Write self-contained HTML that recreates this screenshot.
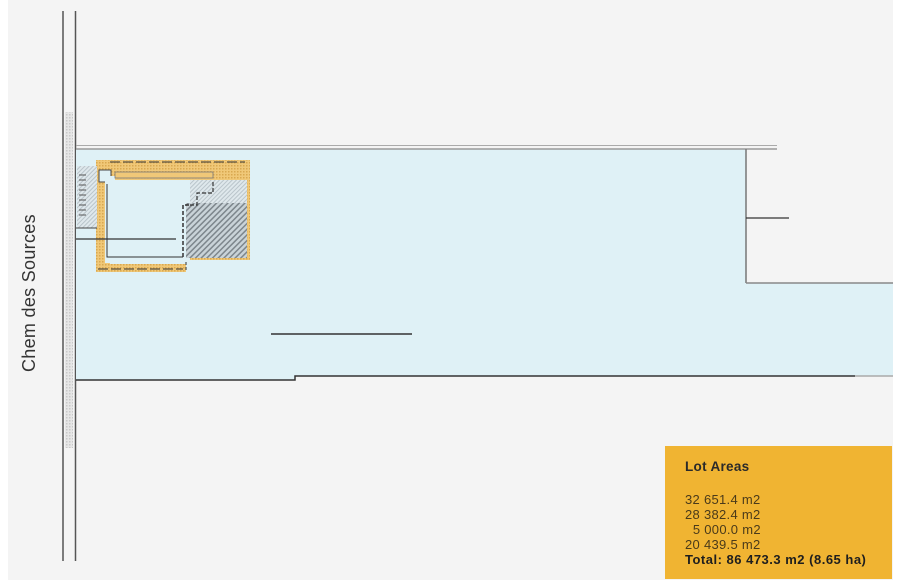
<!DOCTYPE html>
<html><head><style>
body{margin:0;background:#fff;}
.wrap{position:relative;width:921px;height:588px;overflow:hidden;background:#fff;font-family:"Liberation Sans",sans-serif;}
</style></head><body><div class="wrap">
<svg width="921" height="588" style="position:absolute;left:0;top:0">
<defs>
<pattern id="dots" width="3" height="3" patternUnits="userSpaceOnUse"><rect width="3" height="3" fill="#f0c878"/><rect width="1.5" height="1.5" fill="#d9a850"/></pattern>
<pattern id="gdots" width="3" height="3" patternUnits="userSpaceOnUse"><rect width="3" height="3" fill="#e6e6e6"/><rect width="1.5" height="1.5" fill="#c8c8c8"/></pattern>
<pattern id="hatch" width="4" height="4" patternUnits="userSpaceOnUse" patternTransform="rotate(45)"><rect width="4" height="4" fill="#c9d3d8"/><rect width="1.5" height="4" fill="#7d868c"/></pattern>
<pattern id="lhatch" width="3" height="3" patternUnits="userSpaceOnUse" patternTransform="rotate(45)"><rect width="3" height="3" fill="#dfe8ec"/><rect width="1" height="3" fill="#b9c4ca"/></pattern>
</defs>
<rect x="8" y="0" width="885" height="580" fill="#f4f4f4"/>
<rect x="65" y="112" width="8" height="336" fill="url(#gdots)"/>
<line x1="63" y1="11" x2="63" y2="561" stroke="#555" stroke-width="1.5"/>
<line x1="75.5" y1="11" x2="75.5" y2="561" stroke="#555" stroke-width="1.5"/>
<polygon points="76,149 746,149 746,283 893,283 893,376 295,376 295,380 76,380" fill="#dff1f6"/>
<line x1="76" y1="145.5" x2="777" y2="145.5" stroke="#aaa" stroke-width="1"/>
<line x1="76" y1="149" x2="777" y2="149" stroke="#999" stroke-width="1.5"/>
<line x1="746" y1="149" x2="746" y2="283" stroke="#777" stroke-width="1.5"/>
<line x1="746" y1="283" x2="893" y2="283" stroke="#888" stroke-width="1.5"/>
<line x1="746" y1="218" x2="789" y2="218" stroke="#333" stroke-width="1.2"/>
<polyline points="76,380 295,380 295,376 855,376" fill="none" stroke="#333" stroke-width="1.5"/>
<line x1="855" y1="376" x2="893" y2="376" stroke="#aaa" stroke-width="1.5"/>
<line x1="271" y1="334" x2="412" y2="334" stroke="#333" stroke-width="1.5"/>
<polygon points="96,160 250,160 250,260 186,260 186,272 96,272" fill="url(#dots)"/>
<rect x="77" y="166" width="20" height="62" fill="url(#lhatch)"/>
<g stroke="#555" stroke-width="1">
<line x1="79" y1="175" x2="86" y2="175"/><line x1="79" y1="180" x2="86" y2="180"/><line x1="79" y1="185" x2="86" y2="185"/><line x1="79" y1="190" x2="86" y2="190"/><line x1="79" y1="195" x2="86" y2="195"/><line x1="79" y1="200" x2="86" y2="200"/><line x1="79" y1="205" x2="86" y2="205"/><line x1="79" y1="210" x2="86" y2="210"/><line x1="79" y1="215" x2="86" y2="215"/>
</g>
<rect x="99" y="170" width="12" height="12" fill="#dff1f6" stroke="#444"/>
<rect x="105" y="176" width="10" height="87" fill="#dff1f6"/>
<rect x="110" y="180" width="80" height="84" fill="#dff1f6"/>
<rect x="115" y="172" width="98" height="6" fill="#f0c878" stroke="#777" stroke-width="0.8"/>
<rect x="190" y="180" width="57" height="23" fill="url(#lhatch)"/>
<rect x="186" y="203" width="61" height="55" fill="url(#hatch)"/>
<polyline points="107,184 107,257 183,257" fill="none" stroke="#333" stroke-width="1"/>
<polyline points="183,257 183,205 190,205" fill="none" stroke="#333" stroke-width="1.5" stroke-dasharray="4,2"/>
<polyline points="190,205 197,205 197,193 213,193 213,182" fill="none" stroke="#333" stroke-width="1.2" stroke-dasharray="4,2"/>
<line x1="76" y1="239" x2="176" y2="239" stroke="#333" stroke-width="1.2"/>
<line x1="76" y1="228" x2="97" y2="228" stroke="#444" stroke-width="1"/>
<line x1="110" y1="162" x2="245" y2="162" stroke="#333" stroke-width="1" stroke-dasharray="10,3"/>
<line x1="98" y1="269" x2="183" y2="269" stroke="#333" stroke-width="1" stroke-dasharray="10,3"/>
<line x1="186" y1="262" x2="186" y2="270" stroke="#333" stroke-width="1" stroke-dasharray="3,2"/>
<text transform="translate(35,372) rotate(-90)" font-family="Liberation Sans, sans-serif" font-size="18" fill="#333" letter-spacing="0.3">Chem des Sources</text>
</svg>
<div style="position:absolute;left:665px;top:446px;width:227px;height:133px;background:#f0b432;color:#2a2a2a;font-size:13px;letter-spacing:0.3px;">
<div style="position:absolute;left:20px;top:13px;font-weight:bold;font-size:13.5px;letter-spacing:0.3px;">Lot Areas</div>
<div style="position:absolute;left:20px;top:46px;line-height:15px;color:#4a3a1a;">32 651.4 m2<br>28 382.4 m2<br>&nbsp; 5 000.0 m2<br>20 439.5 m2<br><b style="color:#1e1e1e;letter-spacing:0.5px;">Total: 86 473.3 m2 (8.65 ha)</b></div>
</div>
</div></body></html>
